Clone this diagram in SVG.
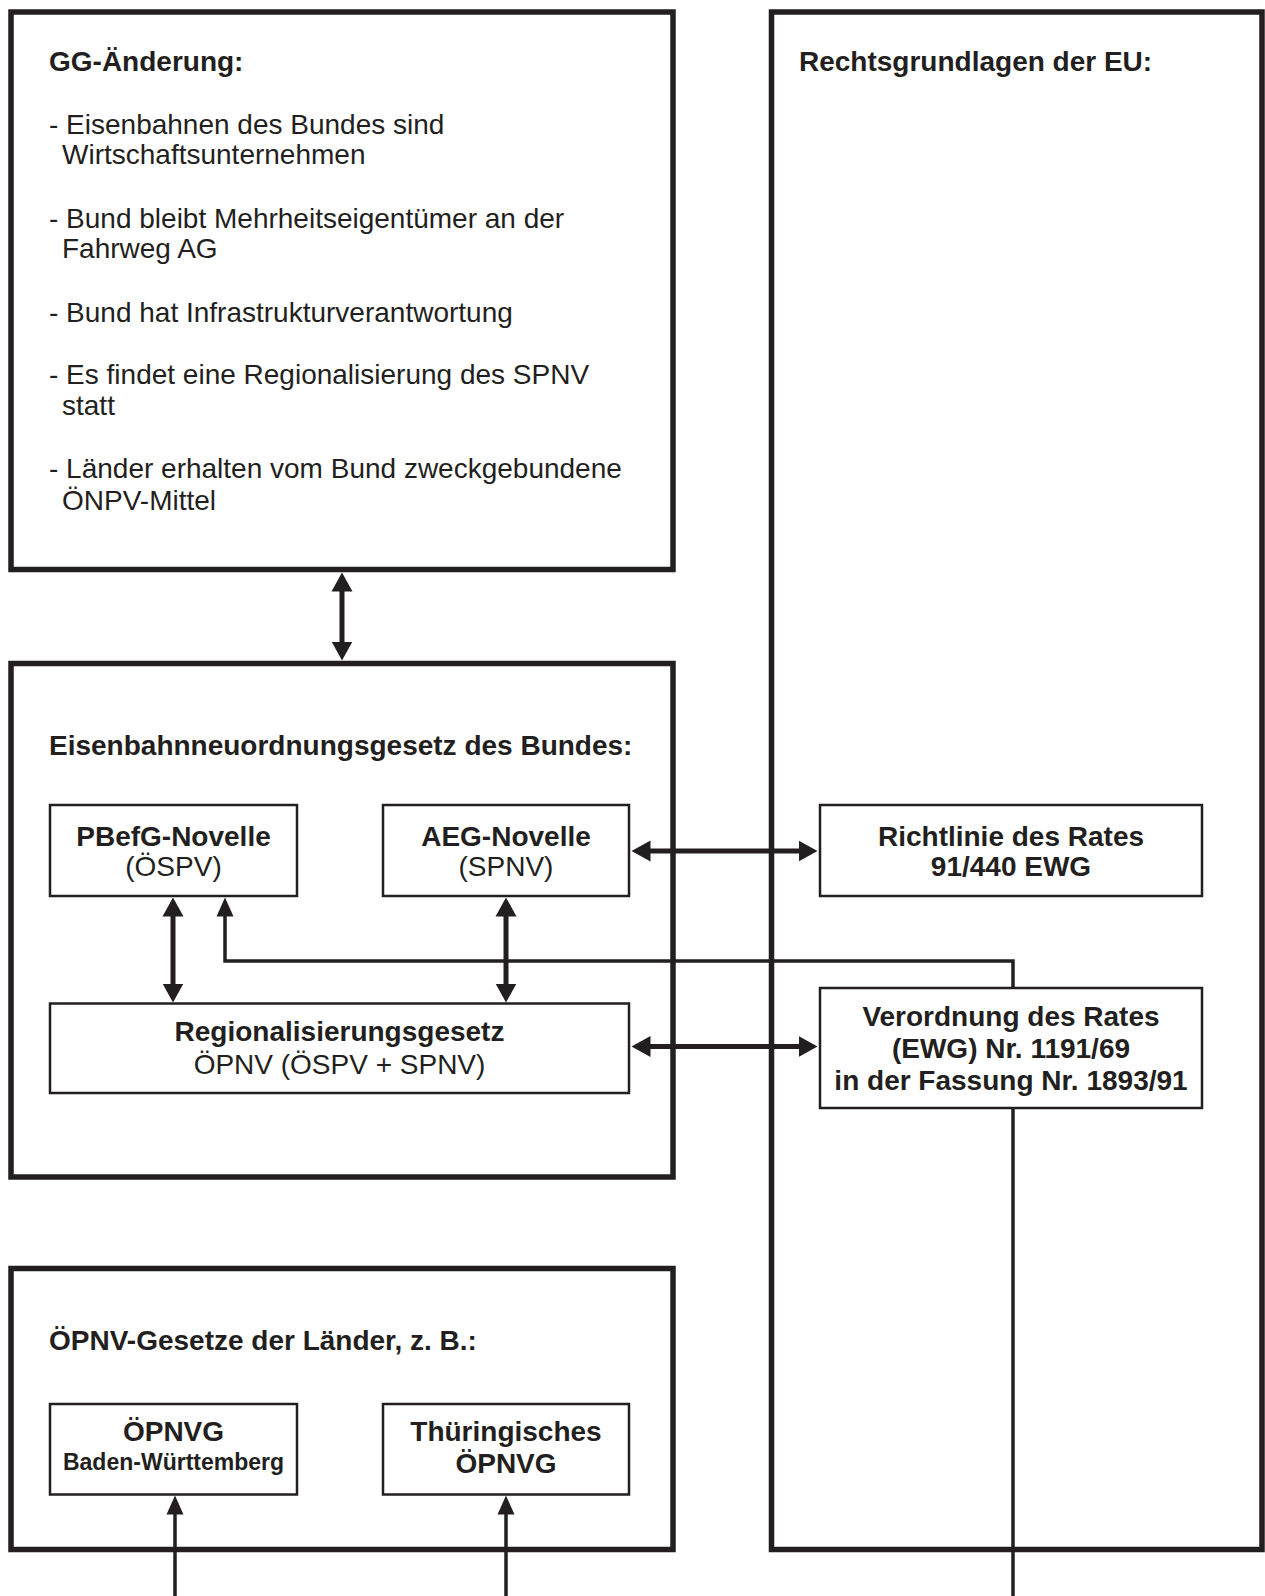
<svg xmlns="http://www.w3.org/2000/svg" width="1265" height="1596" viewBox="0 0 1265 1596">
<style>
.outer{fill:none;stroke:#231f20;stroke-width:5.5}
.inner{fill:#fff;stroke:#231f20;stroke-width:2.5}
text{font-family:"Liberation Sans",Arial,sans-serif;font-size:28px;fill:#231f20}
.b{font-weight:bold}
.c{text-anchor:middle}
.thick{fill:none;stroke:#231f20;stroke-width:5}
.thin{fill:none;stroke:#231f20;stroke-width:3.5}
</style>
<defs>
<marker id="hb" viewBox="0 -11 20 22" markerUnits="userSpaceOnUse" markerWidth="20" markerHeight="22" refX="0.5" refY="0" orient="auto-start-reverse">
<path d="M0,-10.5 L19,0 L0,10.5 z" fill="#231f20"/>
</marker>
<marker id="hs" viewBox="0 -10 20 20" markerUnits="userSpaceOnUse" markerWidth="20" markerHeight="20" refX="0.5" refY="0" orient="auto-start-reverse">
<path d="M0,-8.5 L19,0 L0,8.5 z" fill="#231f20"/>
</marker>
</defs>
<rect width="1265" height="1596" fill="#fff"/>

<g id="gg">
<rect class="outer" x="11" y="12" width="662" height="557.5"/>
<text class="b" x="49" y="71">GG-Änderung:</text>
<text x="49" y="134">- Eisenbahnen des Bundes sind</text>
<text x="62" y="164">Wirtschaftsunternehmen</text>
<text x="49" y="228">- Bund bleibt Mehrheitseigentümer an der</text>
<text x="62" y="258">Fahrweg AG</text>
<text x="49" y="322">- Bund hat Infrastrukturverantwortung</text>
<text x="49" y="384">- Es findet eine Regionalisierung des SPNV</text>
<text x="62" y="415">statt</text>
<text x="49" y="478">- Länder erhalten vom Bund zweckgebundene</text>
<text x="62" y="510">ÖNPV-Mittel</text>
</g>

<g id="eu">
<rect class="outer" x="771.5" y="12" width="490.5" height="1537.5"/>
<text class="b" x="799" y="71">Rechtsgrundlagen der EU:</text>
</g>

<g id="eneuog">
<rect class="outer" x="11" y="663.5" width="662" height="513.5"/>
<text class="b" x="49" y="755">Eisenbahnneuordnungsgesetz des Bundes:</text>
</g>

<g id="laender">
<rect class="outer" x="11" y="1268.5" width="662" height="281"/>
<text class="b" x="49" y="1350">ÖPNV-Gesetze der Länder, z. B.:</text>
</g>

<g id="connectors">
<line class="thick" x1="342" y1="591" x2="342" y2="642" marker-start="url(#hb)" marker-end="url(#hb)"/>
<line class="thick" x1="650" y1="851" x2="799" y2="851" marker-start="url(#hb)" marker-end="url(#hb)"/>
<line class="thick" x1="650" y1="1046.5" x2="799" y2="1046.5" marker-start="url(#hb)" marker-end="url(#hb)"/>
<line class="thick" x1="173" y1="916" x2="173" y2="984" marker-start="url(#hb)" marker-end="url(#hb)"/>
<line class="thick" x1="506" y1="916" x2="506" y2="984" marker-start="url(#hb)" marker-end="url(#hb)"/>
<polyline class="thin" points="1013,988 1013,961 225,961 225,916" marker-end="url(#hs)"/>
<line class="thin" x1="1013" y1="1108" x2="1013" y2="1596"/>
<line class="thin" x1="175" y1="1596" x2="175" y2="1514" marker-end="url(#hs)"/>
<line class="thin" x1="506" y1="1596" x2="506" y2="1514" marker-end="url(#hs)"/>
</g>

<g id="pbefg">
<rect class="inner" x="50" y="805" width="247" height="91"/>
<text class="b c" x="173.5" y="846">PBefG-Novelle</text>
<text class="c" x="173.5" y="876">(ÖSPV)</text>
</g>

<g id="aeg">
<rect class="inner" x="383" y="805" width="246" height="91"/>
<text class="b c" x="506" y="846">AEG-Novelle</text>
<text class="c" x="506" y="876">(SPNV)</text>
</g>

<g id="reg">
<rect class="inner" x="50" y="1003.5" width="579" height="89.5"/>
<text class="b c" x="339.5" y="1041">Regionalisierungsgesetz</text>
<text class="c" x="339.5" y="1074">ÖPNV (ÖSPV + SPNV)</text>
</g>

<g id="richtlinie">
<rect class="inner" x="820" y="805" width="382" height="91"/>
<text class="b c" x="1011" y="846">Richtlinie des Rates</text>
<text class="b c" x="1011" y="876">91/440 EWG</text>
</g>

<g id="verordnung">
<rect class="inner" x="820" y="988" width="382" height="120"/>
<text class="b c" x="1011" y="1026">Verordnung des Rates</text>
<text class="b c" x="1011" y="1058">(EWG) Nr. 1191/69</text>
<text class="b c" x="1011" y="1090">in der Fassung Nr. 1893/91</text>
</g>

<g id="oepnvg-bw">
<rect class="inner" x="50" y="1404" width="247" height="90.5"/>
<text class="b c" x="173.5" y="1441">ÖPNVG</text>
<text class="b c" x="173.5" y="1470" style="font-size:23px">Baden-Württemberg</text>
</g>

<g id="oepnvg-th">
<rect class="inner" x="383" y="1404" width="246" height="90.5"/>
<text class="b c" x="506" y="1441">Thüringisches</text>
<text class="b c" x="506" y="1473">ÖPNVG</text>
</g>
</svg>
